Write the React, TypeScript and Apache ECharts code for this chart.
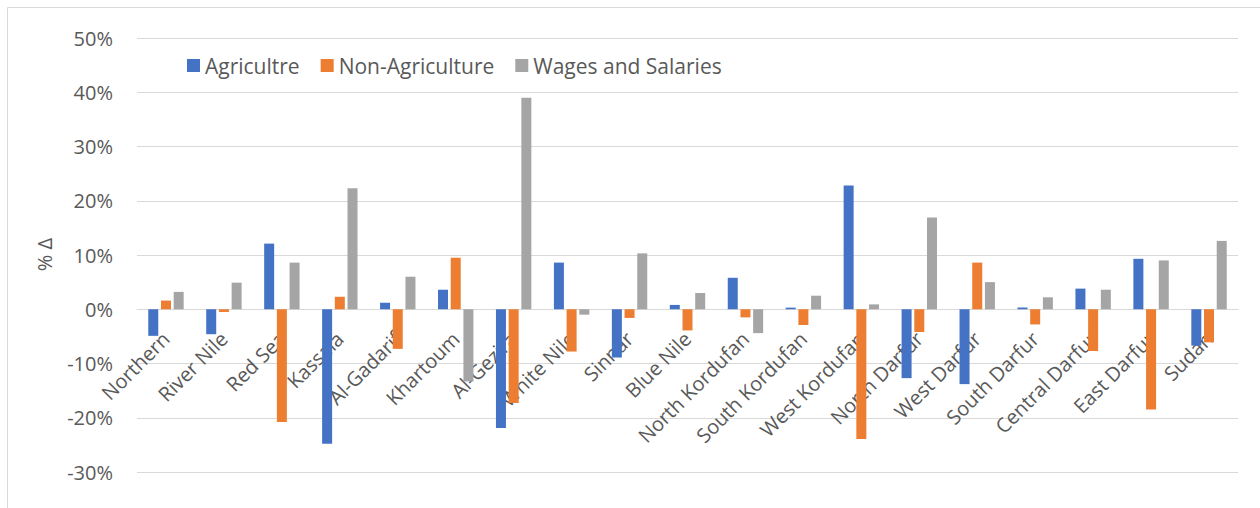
import React, { useEffect, useRef } from "react";
import * as echarts from "echarts";

const categories = [
  "Northern", "River Nile", "Red Sea", "Kassala", "Al-Gadarif", "Khartoum", "Al-Gezira",
  "White Nile", "Sinnar", "Blue Nile", "North Kordufan", "South Kordufan", "West Kordufan",
  "North Darfur", "West Darfur", "South Darfur", "Central Darfur", "East Darfur", "Sudan",
];
const agriculture = [-4.9, -4.6, 12.1, -24.8, 1.2, 3.6, -21.9, 8.6, -8.9, 0.8, 5.8, 0.3, 22.8, -12.7, -13.8, 0.3, 3.8, 9.3, -6.7];
const nonAgriculture = [1.6, -0.5, -20.8, 2.3, -7.3, 9.5, -17.3, -7.8, -1.6, -3.9, -1.5, -2.9, -23.9, -4.2, 8.6, -2.8, -7.7, -18.5, -6.1];
const wages = [3.2, 4.9, 8.6, 22.3, 6.0, -13.3, 39.0, -1.0, 10.3, 3.0, -4.4, 2.5, 0.9, 16.9, 5.0, 2.2, 3.6, 9.0, 12.6];
const seriesNames = ["Agricultre", "Non-Agriculture", "Wages and Salaries"];
const colors = ["#4472C4", "#ED7D31", "#A5A5A5"];
const yTicks = { min: -30, max: 50, step: 10 };

const FONT = "'Open Sans', sans-serif";
const TEXT = "#595959";
const GRID_TOP = 38;
const GRID_BOTTOM = 36;
const HEIGHT = 508;

export default function App() {
  const ref = useRef<HTMLDivElement>(null);
  useEffect(() => {
    document.body.style.margin = "0";
    if (!ref.current) return;
    const chart = echarts.init(ref.current, null, { renderer: "svg" });
    const values = [agriculture, nonAgriculture, wages];
    const plotH = HEIGHT - GRID_TOP - GRID_BOTTOM;
    // distance from bottom of plot to the zero line
    const zeroOffset = (plotH * (0 - yTicks.min)) / (yTicks.max - yTicks.min);
    chart.setOption({
      animation: false,
      backgroundColor: "#ffffff",
      color: colors,
      grid: {
        left: 137,
        right: 22,
        top: GRID_TOP,
        bottom: GRID_BOTTOM,
        containLabel: false,
        outerBoundsMode: "none",
      },
      legend: {
        left: 182,
        top: 50,
        itemWidth: 13,
        itemHeight: 13,
        itemGap: 21,
        icon: "rect",
        textStyle: { fontFamily: FONT, fontSize: 21, color: TEXT },
        data: seriesNames,
      },
      xAxis: {
        type: "category",
        data: categories,
        position: "bottom",
        offset: -zeroOffset,
        axisLine: { onZero: false, lineStyle: { color: "#d9d9d9", width: 1 } },
        axisTick: { show: false },
        axisLabel: {
          rotate: 45,
          interval: 0,
          margin: 26,
          fontFamily: FONT,
          fontSize: 20,
          color: TEXT,
        },
      },
      yAxis: {
        type: "value",
        min: yTicks.min,
        max: yTicks.max,
        interval: yTicks.step,
        axisLine: { show: false },
        axisTick: { show: false },
        splitLine: { lineStyle: { color: "#d9d9d9", width: 1 } },
        axisLabel: {
          formatter: "{value}%",
          margin: 24,
          fontFamily: FONT,
          fontSize: 20,
          color: TEXT,
        },
      },
      graphic: [
        {
          type: "rect",
          shape: { x: 7.5, y: 7.5, width: 1400, height: 700 },
          style: { fill: "none", stroke: "#d9d9d9", lineWidth: 1 },
          silent: true,
          z: -1,
        },
        {
          type: "text",
          x: 44,
          y: 254.5,
          rotation: Math.PI / 2,
          style: {
            text: "% Δ",
            fontFamily: FONT,
            fontSize: 20,
            fill: TEXT,
            align: "center",
            verticalAlign: "middle",
          },
        },
      ],
      series: seriesNames.map((name, i) => ({
        name,
        type: "bar",
        data: values[i],
        barWidth: 10,
        barGap: "27%",
        itemStyle: { color: colors[i] },
      })),
    });
    return () => chart.dispose();
  }, []);
  return <div ref={ref} style={{ width: 1260, height: 508 }} />;
}
